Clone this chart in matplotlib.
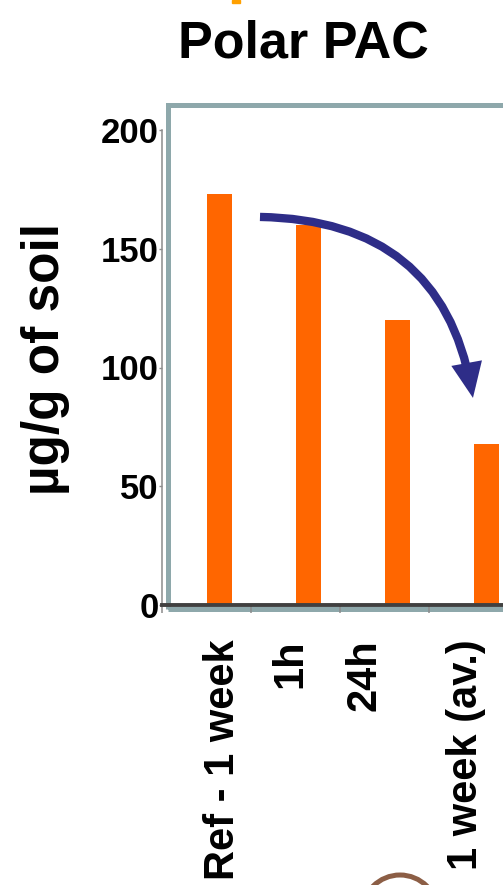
import matplotlib
matplotlib.use("Agg")
import matplotlib.pyplot as plt
import numpy as np
from matplotlib.patches import FancyArrowPatch, Rectangle, Circle

# ── Data ──────────────────────────────────────────────────────────────────────
categories = ["Ref - 1 week", "1h", "24h", "1 week (av.)"]
values = [173, 160, 120, 68]
y_ticks = [0, 50, 100, 150, 200]
title = "Polar PAC"
y_label = "µg/g of soil"

# ── Layout (pixels of a 503x885 canvas) ───────────────────────────────────────
W, H = 503, 885
BAR_COLOR = "#ff6600"
ARROW_COLOR = "#2e2d88"
FRAME_COLOR = "#8ea8ab"
BAR_OFFSET = 0.146
BAR_WIDTH = 0.28
LABEL_SHIFT = [0.18, -0.06, -0.22, -0.08]


def fx(x):
    return x / W


def fy(y):
    return 1 - y / H


plt.rcParams["font.family"] = ["Liberation Sans", "DejaVu Sans"]
fig = plt.figure(figsize=(W / 100, H / 100), dpi=100)
fig.patch.set_facecolor("white")

ax = fig.add_axes([fx(162), fy(605), (518 - 162) / W, (605 - 130) / H])

x = np.arange(len(categories))
ax.bar(x + BAR_OFFSET, values, width=BAR_WIDTH, color=BAR_COLOR, zorder=2)

ax.set_xlim(-0.5, len(categories) - 0.5)
ax.set_ylim(0, 200)

# plot-area border (Excel style), partly off the right edge
ax.add_patch(Rectangle((fx(168), fy(609)), fx(620 - 168), (609 - 105) / H,
                       transform=fig.transFigure, fill=False,
                       ec=FRAME_COLOR, lw=3.6, clip_on=False, zorder=0.5))

for s in ["top", "right"]:
    ax.spines[s].set_visible(False)
ax.spines["left"].set_color("#8c8c8c")
ax.spines["left"].set_linewidth(1.1)
ax.spines["bottom"].set_color("#404040")
ax.spines["bottom"].set_linewidth(2.8)
ax.spines["bottom"].set_zorder(3)

ax.set_yticks(y_ticks)
ax.set_yticklabels([str(v) for v in y_ticks], fontsize=25, fontweight="bold")
ax.tick_params(axis="y", length=2.5, width=1, color="#8c8c8c", pad=0)

ax.set_xticks(np.arange(len(categories) + 1) - 0.5)
ax.set_xticklabels([])
ax.tick_params(axis="x", which="major", length=6, width=1.1, color="#8c8c8c")
ax.set_xticks(x + np.array(LABEL_SHIFT), minor=True)
ax.set_xticklabels(categories, minor=True, rotation=90,
                   fontsize=30, fontweight="bold")
ax.tick_params(axis="x", which="minor", length=0, pad=25)

# curved arrow showing the decrease
arrow = FancyArrowPatch((0.601, 163.4), (2.994, 87.2),
                        connectionstyle="arc3,rad=-0.41",
                        arrowstyle="-|>,head_length=0.75,head_width=0.33",
                        mutation_scale=20, lw=6, color=ARROW_COLOR,
                        shrinkA=0, shrinkB=0, capstyle="butt",
                        joinstyle="miter", zorder=5, clip_on=False)
ax.add_patch(arrow)

fig.text(fx(303), fy(58), title, ha="center", va="baseline",
         fontsize=37.5, fontweight="bold")
fig.text(fx(45), fy(359), y_label, rotation=90, ha="center", va="center",
         fontsize=37, fontweight="bold")

# slide fragments at the edges
fig.patches.append(Rectangle((fx(232), fy(3)), fx(8), 3 / H,
                             transform=fig.transFigure, color="#ffa000"))
ring = Circle((400, H - 913), 38, transform=None, fill=False,
              ec="#8c5e45", lw=3.6)
fig.patches.append(ring)

fig.savefig("out.png", dpi=100)
